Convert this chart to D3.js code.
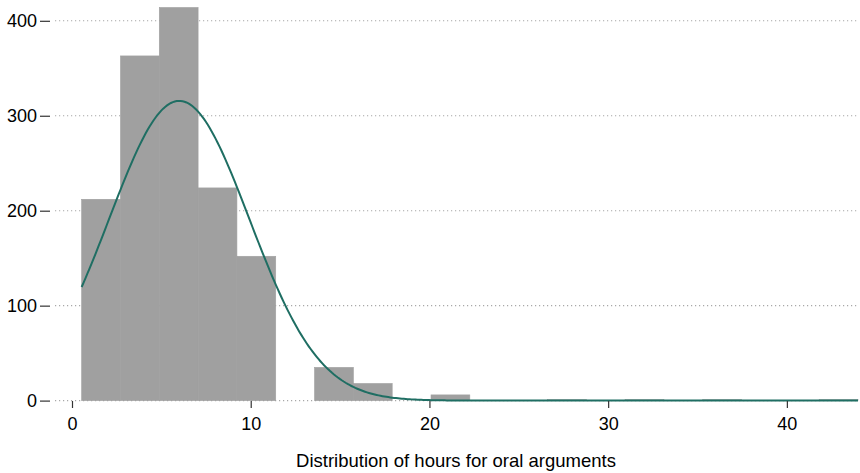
<!DOCTYPE html>
<html>
<head>
<meta charset="utf-8">
<script src="https://cdn.jsdelivr.net/npm/d3@7"></script>
<style>
  body { margin: 0; background: #fff; }
  text { font-family: "Liberation Sans", Arial, Helvetica, sans-serif; }
</style>
</head>
<body>
<svg id="chart"></svg>
<script>
const width = 860, height = 473;

// histogram bins (hours)
const binStart = 0.54;
const binWidth = 2.172;
const counts = [212, 363, 414, 224, 152, 0, 35, 18, 0, 6, 0, 0, 1, 0, 1, 0, 1, 0, 0, 1];

// normal overlay parameters
const normMean = 6.0;
const normSd = 3.92;
const normN = 1428;

const xTicks = [0, 10, 20, 30, 40];
const yTicks = [0, 100, 200, 300, 400];
const xTitle = "Distribution of hours for oral arguments";

const xMax = binStart + binWidth * counts.length;

const xScale = d3.scaleLinear().domain([0, xMax]).range([72, 858]);
const yScale = d3.scaleLinear().domain([0, 400]).range([400.6, 20.8]);

const svg = d3.select("#chart")
  .attr("width", width)
  .attr("height", height);

// dotted grid lines
svg.append("g")
  .selectAll("line")
  .data(yTicks)
  .join("line")
  .attr("x1", 55)
  .attr("x2", 858)
  .attr("y1", d => yScale(d))
  .attr("y2", d => yScale(d))
  .attr("stroke", "#a8a8a8")
  .attr("stroke-width", 1.1)
  .attr("stroke-dasharray", "1.2 2.8");

// bars
const bins = counts.map((c, i) => ({ x0: binStart + i * binWidth, x1: binStart + (i + 1) * binWidth, n: c }));

svg.append("g")
  .selectAll("rect")
  .data(bins)
  .join("rect")
  .attr("x", d => xScale(d.x0))
  .attr("width", d => xScale(d.x1) - xScale(d.x0))
  .attr("y", d => yScale(d.n))
  .attr("height", d => yScale(0) - yScale(d.n))
  .attr("fill", "#a0a0a0")
  .attr("stroke", "#a0a0a0")
  .attr("stroke-width", 0.6);

// normal density curve scaled to counts
const curvePts = d3.range(0, 401).map(i => {
  const x = binStart + (xMax - binStart) * i / 400;
  const z = (x - normMean) / normSd;
  const y = normN * binWidth * Math.exp(-0.5 * z * z) / (normSd * Math.sqrt(2 * Math.PI));
  return [x, y];
});

svg.append("path")
  .datum(curvePts)
  .attr("fill", "none")
  .attr("stroke", "#1f6e63")
  .attr("stroke-width", 2)
  .attr("d", d3.line().x(d => xScale(d[0])).y(d => yScale(d[1])));

// y axis
const yAxis = svg.append("g")
  .attr("transform", "translate(50,0)")
  .call(d3.axisLeft(yScale).tickValues(yTicks).tickSize(10).tickPadding(3));
yAxis.select(".domain").remove();
yAxis.selectAll("line").attr("stroke", "#333").attr("stroke-width", 1.2);
yAxis.selectAll("text")
  .attr("font-size", 18)
  .attr("fill", "#000")
  .attr("font-family", "Liberation Sans, Arial, sans-serif");

// x axis
const xAxis = svg.append("g")
  .attr("transform", "translate(0,401)")
  .call(d3.axisBottom(xScale).tickValues(xTicks).tickSize(7).tickPadding(9));
xAxis.select(".domain").remove();
xAxis.selectAll("line").attr("stroke", "#333").attr("stroke-width", 1.2);
xAxis.selectAll("text")
  .attr("font-size", 18)
  .attr("fill", "#000")
  .attr("font-family", "Liberation Sans, Arial, sans-serif");

// x title
svg.append("text")
  .attr("x", 456)
  .attr("y", 467)
  .attr("text-anchor", "middle")
  .attr("font-size", 18.5)
  .attr("fill", "#000")
  .text(xTitle);
</script>
</body>
</html>
